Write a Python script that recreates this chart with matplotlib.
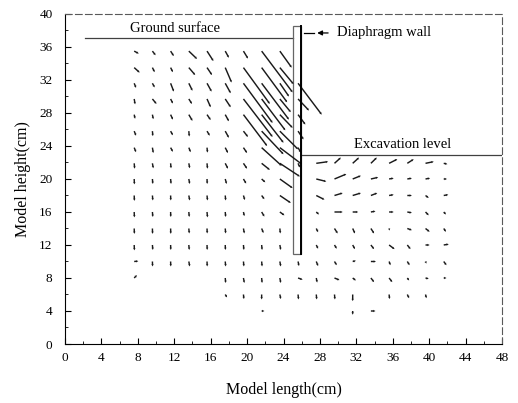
import numpy as np
import matplotlib.pyplot as plt
from matplotlib.patches import Rectangle

plt.rcParams['font.family'] = ['Liberation Serif', 'DejaVu Serif']

# measuring grid (cm)
cols = [7.6, 9.6, 11.6, 13.6, 15.6, 17.6, 19.6, 21.6, 23.6,
        25.6, 27.6, 29.6, 31.6, 33.6, 35.6, 37.6, 39.6, 41.6]
rows = [35.5, 33.5, 31.6, 29.7, 27.8, 25.8, 23.8, 21.9, 20, 18, 16, 14, 12, 10, 8, 6, 4]

N = None
# horizontal displacement (one list per row, None = no vector)
u = [
    [.5, .35, .35, .9, .7, .4, .5, 3.4, 1.3, N, N, N, N, N, N, N, N, N],
    [.6, .25, .25, .7, .55, .7, 2.9, 2.8, 1.5, N, N, N, N, N, N, N, N, N],
    [.2, .25, .35, .4, .5, .6, 3.2, 3.0, 1.0, 2.6, N, N, N, N, N, N, N, N],
    [.1, .45, .25, .35, .4, .6, 3.2, 2.6, 1.2, 1.2, N, N, N, N, N, N, N, N],
    [.1, .1, .25, .4, .4, .4, 2.6, 2.4, 1.4, .8, N, N, N, N, N, N, N, N],
    [.2, .05, .25, .05, .3, .4, .5, 2.4, 2.0, .6, N, N, N, N, N, N, N, N],
    [.2, .1, .25, .2, .05, .3, .4, 2.2, 2.4, .3, N, N, N, N, N, N, N, N],
    [.05, .1, .05, .1, .05, .3, .4, .9, 2.2, .2, 1.3, .7, .7, .65, .9, .7, .9, .4],
    [.02, .05, .05, .1, .02, .15, .3, .4, 1.4, N, 1.1, 1.3, .9, .8, .5, .5, .5, .35],
    [.02, .05, .02, .1, .05, .05, .15, .3, 1.2, N, .9, .9, .9, .7, .5, .5, .35, .5],
    [.02, .05, .02, .05, .05, .05, .1, .3, .5, N, .3, .9, .6, .5, .5, .5, .35, .25],
    [.02, .02, .02, .05, .02, .05, .1, .2, .05, N, .2, .35, .25, .35, .05, .5, .45, .25],
    [.02, .05, .02, .05, .02, .02, .05, .05, .1, N, .2, .25, .25, .35, .6, .35, .45, .55],
    [.45, .02, .02, .1, .02, .05, .05, .05, .1, .1, .2, .25, .35, .55, .15, .25, .1, .3],
    [.3, N, N, N, N, .05, .1, .05, .1, .5, .1, .55, .35, .35, .35, .2, .35, .3],
    [N, N, N, N, N, .2, .05, 0, .1, .05, .05, .05, 0, N, .05, .2, .1, N],
    [N, N, N, N, N, N, N, .3, N, N, N, N, 0, .5, N, N, N, N],
]
# vertical displacement
v = [
    [-.3, -.5, -.6, -.95, -1.2, -.8, -.9, -5.0, -2.0, N, N, N, N, N, N, N, N, N],
    [-.6, -.55, -.55, -.9, -.9, -1.8, -4.4, -4.2, -2.0, N, N, N, N, N, N, N, N, N],
    [-.55, -.5, -1.0, -.9, -1.0, -1.2, -4.8, -4.4, -1.6, -3.8, N, N, N, N, N, N, N, N],
    [-.65, -.6, -.55, -.6, -1.0, -1.0, -4.6, -3.8, -1.6, -1.4, N, N, N, N, N, N, N, N],
    [-.5, -.55, -.6, -.75, -.65, -.8, -3.8, -3.4, -1.6, -1.2, N, N, N, N, N, N, N, N],
    [-.55, -.6, -.5, -.65, -.55, -.8, -.7, -2.8, -2.2, -1.0, N, N, N, N, N, N, N, N],
    [-.55, -.65, -.5, -.55, -.6, -.65, -.65, -2.2, -2.0, -.6, N, N, N, N, N, N, N, N],
    [-.65, -.6, -.6, -.6, -.65, -.65, -.65, -.8, -1.6, -.5, .2, .7, .7, .7, .5, .5, .2, -.1],
    [-.65, -.6, -.6, -.6, -.6, -.6, -.55, -.4, -1.1, N, -.3, .6, .4, .2, .1, .1, .1, 0],
    [-.65, -.6, -.6, -.6, -.6, -.6, -.55, -.45, -.9, N, -.5, .3, .3, .3, .1, 0, -.3, .1],
    [-.65, -.6, -.6, -.6, -.65, -.6, -.5, -.55, -.4, N, -.3, 0, 0, .1, 0, -.1, -.4, -.3],
    [-.65, -.65, -.65, -.6, -.6, -.6, -.6, -.55, -.6, N, -.45, -.6, -.6, -.6, -.25, -.2, -.4, -.4],
    [-.65, -.6, -.6, -.6, -.6, -.6, -.6, -.6, -.6, N, -.45, -.45, -.5, -.5, -.5, -.5, 0, .1],
    [.05, -.6, -.6, -.6, -.6, -.6, -.6, -.6, -.6, -.55, -.55, -.45, .1, 0, -.45, -.45, -.25, -.45],
    [.35, N, N, N, N, -.6, -.6, -.6, -.6, -.2, -.55, -.25, -.3, -.5, -.5, -.3, -.1, 0],
    [N, N, N, N, N, -.35, -.55, -.6, -.55, -.6, -.6, -.6, -.8, N, -.55, -.45, -.45, N],
    [N, N, N, N, N, N, N, 0, N, N, N, N, -.45, 0, N, N, N, N],
]

ground_level = 37.05
excavation_level = 22.9
wall_left, wall_right = 25.0, 25.95
wall_bottom, wall_top = 10.9, 38.6

# flatten the grid
X, Y, U, V = [], [], [], []
for i, yy in enumerate(rows):
    for j, xx in enumerate(cols):
        if u[i][j] is None:
            continue
        X.append(xx); Y.append(yy); U.append(u[i][j]); V.append(v[i][j])

fig = plt.figure(figsize=(5.18, 4.03), dpi=100)
ax = fig.add_axes([0.1255, 0.1464, 0.8436, 0.8189])

# displacement vectors: thin shafts with a tiny head
ax.quiver(X, Y, U, V, angles='xy', scale_units='xy', scale=1, pivot='tail',
          color='0.1', width=0.0033, headwidth=1.7, headlength=1.6,
          headaxislength=1.5, minshaft=1, minlength=0.5, zorder=3)

# ground surface
ax.plot([2.2, wall_left], [ground_level, ground_level], color='0.25', lw=0.9)
ax.text(7.1, ground_level + 0.35, 'Ground surface', fontsize=10.5, va='bottom')

# diaphragm wall
ax.add_patch(Rectangle((wall_left, wall_bottom), wall_right - wall_left,
                       wall_top - wall_bottom, fill=False, edgecolor='0.4', lw=0.9, zorder=2))
ax.plot([wall_right, wall_right], [wall_bottom, wall_top], color='black', lw=1.4, zorder=4)
ax.plot([26.3, 27.3], [37.7, 37.7], color='black', lw=0.9)
ax.annotate('', xy=(27.7, 37.7), xytext=(28.9, 37.7),
            arrowprops=dict(arrowstyle='-|>', color='black', lw=0.9,
                            mutation_scale=7, shrinkA=0, shrinkB=0))
ax.text(29.9, 37.7, 'Diaphragm wall', fontsize=10.5, va='center')

# excavation level
ax.plot([wall_right, 48], [excavation_level, excavation_level], color='0.25', lw=0.9)
ax.text(31.7, excavation_level + 0.45, 'Excavation level', fontsize=10.5, va='bottom')

ax.set_xlim(0, 48)
ax.set_ylim(0, 40)
ax.set_xticks(np.arange(0, 49, 4))
ax.set_yticks(np.arange(0, 41, 4))
ax.set_xticks(np.arange(0, 49, 2), minor=True)
ax.set_yticks(np.arange(0, 41, 2), minor=True)
ax.tick_params(which='both', direction='in', labelsize=9.5)
ax.tick_params(which='major', length=4)
ax.tick_params(which='minor', length=2)
ax.tick_params(axis='x', pad=6)
ax.tick_params(axis='y', pad=9)

for side in ['top', 'right']:
    ax.spines[side].set_linestyle((0, (6, 3)))
    ax.spines[side].set_color('0.35')
    ax.spines[side].set_linewidth(0.8)

ax.set_xlabel('Model length(cm)', fontsize=11.5, labelpad=13)
ax.set_ylabel('Model height(cm)', fontsize=11.5, labelpad=6)

fig.savefig('out.png', dpi=100)
